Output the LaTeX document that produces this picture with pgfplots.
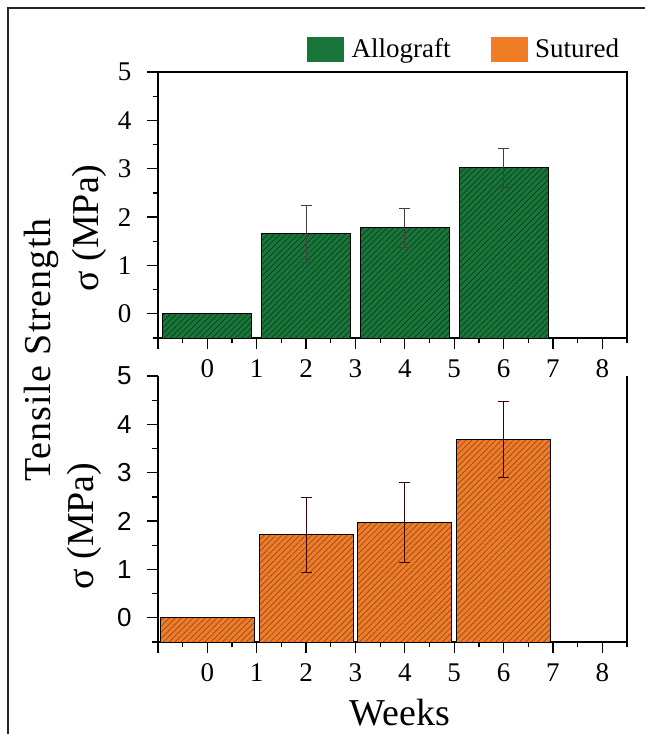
\documentclass[border=0pt]{standalone}
\usepackage{pgfplots}
\pgfplotsset{compat=1.18}
\usetikzlibrary{patterns.meta}
\usepackage{fontspec}
\setmainfont{Liberation Serif}
\newfontfamily\arialfont{Liberation Sans}
\definecolor{allo}{RGB}{24,118,58}
\definecolor{allohatch}{RGB}{10,60,28}
\definecolor{sut}{RGB}{240,124,38}
\definecolor{suthatch}{RGB}{140,75,42}
\pgfplotsset{
  common/.style={
    scale only axis, width=469pt, height=266pt,
    xmin=-1, xmax=8.5, ymin=0, ymax=5.5,
    xtick={-1,0,1,2,3,4,5,6,7,8},
    xticklabels={,0,1,2,3,4,5,6,7,8},
    minor xtick={-0.5,0.5,1.5,2.5,3.5,4.5,5.5,6.5,7.5,8.5},
    ytick={0.5,1.5,2.5,3.5,4.5,5.5},
    yticklabels={0,1,2,3,4,5},
    minor ytick={0,1,2,3,4,5},
    tick align=outside, major tick length=11pt, minor tick length=5.5pt,
    axis line style={line width=1.3pt},
    every tick/.style={black, line width=1.3pt},
    ticklabel style={font=\fontsize{27}{27}\selectfont},
    xticklabel style={yshift=-7pt},
    yticklabel style={xshift=-12pt},
    y filter/.expression={y+0.5},
    label style={font=\fontsize{38}{38}\selectfont},
  },
}
\begin{document}
\begin{tikzpicture}[x=1pt,y=1pt]
\useasboundingbox (0,0) rectangle (645,734);
\draw[line width=1.3pt, black!85] (8,0) -- (8,726) -- (645,726);
\node[rotate=90, font=\fontsize{38}{38}\selectfont\addfontfeature{LetterSpace=3}] at (41,384) {Tensile Strength};
% top panel
\begin{axis}[common, at={(158pt,396pt)}, anchor=south west,
  xtick pos=bottom, ytick pos=left,
  ylabel={σ (MPa)},
  ylabel style={at={(axis description cs:-0.147,0.414)}, anchor=center},
  legend columns=2,
  legend style={at={(axis description cs:0.318,1.0865)}, anchor=west,
    draw=none, fill=none, inner sep=0pt,
    font=\fontsize{27}{27}\selectfont,
    /tikz/every even column/.append style={column sep=38pt}},
]
\addplot[ybar, bar width=1.8, bar shift=0pt, fill=allo, draw=black, line width=0.9pt,
  postaction={pattern={Lines[angle=45,distance=4.2pt,line width=0.7pt]}, pattern color=allohatch},
  forget plot]
  coordinates {(0,0) (2,1.66) (4,1.78) (6,3.02)};
\addplot[only marks, mark=none, mark size=0pt, forget plot,
  error bars/.cd, y dir=both, y explicit,
  error bar style={black!75, line width=0.8pt},
  error mark options={rotate=90, mark size=5.5pt, black!75, line width=0.8pt}]
  coordinates {(2,1.66) +- (0,0.59) (4,1.78) +- (0,0.40) (6,3.02) +- (0,0.40)};
\addlegendimage{legend image code/.code={\fill[allo] (0pt,-12pt) rectangle (36pt,12pt); \path (42pt,0pt);}}
\addlegendentry{Allograft}
\addlegendimage{legend image code/.code={\fill[sut] (0pt,-12pt) rectangle (36pt,12pt); \path (42pt,0pt);}}
\addlegendentry{Sutured}
\end{axis}
% bottom panel
\begin{axis}[common, at={(158pt,92pt)}, anchor=south west,
  axis x line*=bottom, axis y line*=box,
  xtick pos=bottom, ytick pos=left,
  yticklabel style={font=\arialfont\fontsize{26}{26}\selectfont},
  ylabel={σ (MPa)},
  ylabel style={at={(axis description cs:-0.156,0.436)}, anchor=center},
  xlabel={Weeks},
  xlabel style={at={(axis description cs:0.516,-0.267)}, anchor=center},
]
\addplot[ybar, bar width=1.9, bar shift=0pt, fill=sut, draw=black, line width=0.9pt,
  postaction={pattern={Lines[angle=45,distance=4.2pt,line width=0.7pt]}, pattern color=suthatch}]
  coordinates {(0,0) (2,1.72) (4,1.98) (6,3.69)};
\addplot[only marks, mark=none, mark size=0pt,
  error bars/.cd, y dir=both, y explicit,
  error bar style={black!70!red!80!black, line width=0.8pt},
  error mark options={rotate=90, mark size=5.5pt, black!70!red!80!black, line width=0.8pt}]
  coordinates {(2,1.72) +- (0,0.78) (4,1.98) +- (0,0.83) (6,3.69) +- (0,0.78)};
\end{axis}
\end{tikzpicture}
\end{document}
